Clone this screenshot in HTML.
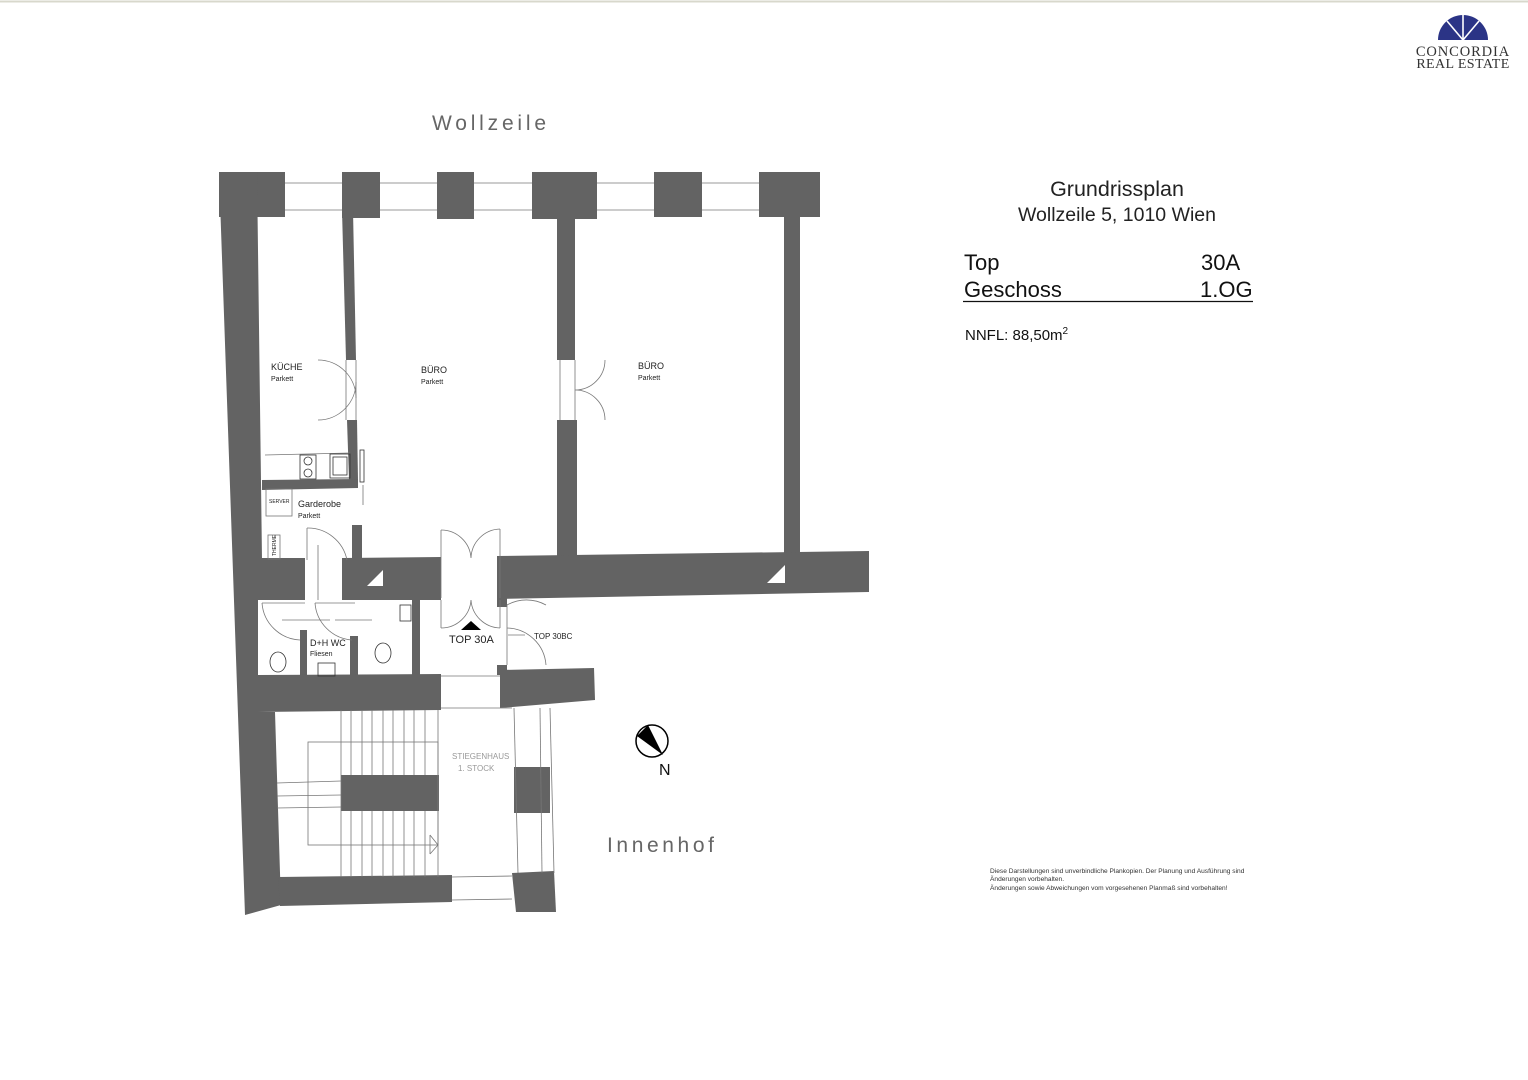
<!DOCTYPE html>
<html><head><meta charset="utf-8"><style>
html,body{margin:0;padding:0;background:#fff;}
svg{display:block;}
text{font-family:"Liberation Sans",sans-serif;}
</style></head><body>
<svg width="1528" height="1080" viewBox="0 0 1528 1080" xmlns="http://www.w3.org/2000/svg">
<line x1="0" y1="1.5" x2="1528" y2="1.5" stroke="#d8d8cc" stroke-width="2"/>
<!-- logo -->
<path d="M1438,40 A25,25 0 0 1 1488,40 Z" fill="#2b3486"/>
<g stroke="#fff" stroke-width="1.6"><line x1="1463" y1="40" x2="1447" y2="21"/><line x1="1463" y1="40" x2="1463" y2="15"/><line x1="1463" y1="40" x2="1479" y2="21"/></g>
<text x="1463" y="56" font-size="14.5" fill="#333" text-anchor="middle" style="font-family:'Liberation Serif',serif" letter-spacing="0.9">CONCORDIA</text>
<text x="1463" y="68" font-size="14" fill="#333" text-anchor="middle" style="font-family:'Liberation Serif',serif" letter-spacing="0.4">REAL ESTATE</text>

<text x="432" y="130" font-size="21" fill="#666" letter-spacing="3.8">Wollzeile</text>
<text x="607" y="852" font-size="21" fill="#666" letter-spacing="3.6">Innenhof</text>

<!-- title block -->
<text x="1117" y="196" font-size="21.5" fill="#222" text-anchor="middle">Grundrissplan</text>
<text x="1117" y="221" font-size="19.5" fill="#222" text-anchor="middle">Wollzeile 5, 1010 Wien</text>
<text x="964" y="270" font-size="22" fill="#111">Top</text>
<text x="1201" y="270" font-size="22" fill="#111">30A</text>
<text x="964" y="297" font-size="22" fill="#111">Geschoss</text>
<text x="1200" y="297" font-size="22" fill="#111">1.OG</text>
<line x1="963" y1="301.5" x2="1253" y2="301.5" stroke="#111" stroke-width="1.2"/>
<text x="965" y="340" font-size="15" fill="#111">NNFL: 88,50m<tspan font-size="10" dy="-6">2</tspan></text>
<g font-size="6.6" fill="#333">
<text x="990" y="873">Diese Darstellungen sind unverbindliche Plankopien. Der Planung und Ausführung sind</text>
<text x="990" y="881">Änderungen vorbehalten.</text>
<text x="990" y="890">Änderungen sowie Abweichungen vom vorgesehenen Planmaß sind vorbehalten!</text>
</g>

<!-- windows -->
<g stroke="#999" stroke-width="1" fill="none">
<line x1="285" y1="183" x2="759" y2="183"/><line x1="285" y1="210" x2="759" y2="210"/>
</g>
<g fill="#636363">
<rect x="219" y="172" width="66" height="45"/>
<rect x="342" y="172" width="38" height="46"/>
<rect x="437" y="172" width="37" height="47"/>
<rect x="532" y="172" width="65" height="47"/>
<rect x="654" y="172" width="48" height="45"/>
<rect x="759" y="172" width="61" height="45"/>
<polygon points="219,172 257,172 262,560 258,600 258,712 275,712 281,905 245,915"/>
<polygon points="342,210 353,210 356,360 346,360"/>
<polygon points="347,420 357,420 358,480 349,480"/>
<polygon points="262,480 358,479 358,488 262,490"/>
<rect x="557" y="210" width="18" height="150"/>
<rect x="557" y="420" width="20" height="136"/>
<rect x="784" y="210" width="16" height="343"/>
<polygon points="497,556 869,551 869,592 497,599"/>
<polygon points="342,558 441,557 441,600 342,600"/>
<rect x="352" y="525" width="10" height="35"/>
<rect x="258" y="558" width="47" height="42"/>
<rect x="300" y="630" width="7" height="48"/>
<rect x="350" y="636" width="8" height="42"/>
<rect x="412" y="600" width="8" height="76"/>
<polygon points="258,675 441,674 441,710 258,712"/>
<rect x="497" y="597" width="10" height="10"/>
<rect x="497" y="665" width="10" height="10"/>
<polygon points="500,670 594,668 595,700 500,708"/>
<polygon points="278,877 452,875 452,902 280,906"/>
<rect x="341" y="775" width="98" height="36"/>
<rect x="514" y="767" width="36" height="46"/>
<polygon points="512,873 554,871 556,912 516,912"/>
</g>
<polygon points="383,570 383,586 367,586" fill="#fff"/>
<polygon points="785,565 785,583 767,583" fill="#fff"/>

<g stroke="#777" stroke-width="0.8" fill="none">
<line x1="341" y1="710" x2="341" y2="877"/>
<line x1="351" y1="710" x2="351" y2="775"/><line x1="362" y1="710" x2="362" y2="775"/><line x1="372" y1="710" x2="372" y2="775"/><line x1="383" y1="710" x2="383" y2="775"/><line x1="393" y1="710" x2="393" y2="775"/><line x1="404" y1="710" x2="404" y2="775"/><line x1="414" y1="710" x2="414" y2="775"/><line x1="425" y1="710" x2="425" y2="775"/><line x1="438" y1="710" x2="438" y2="877"/>
<line x1="351" y1="811" x2="351" y2="877"/><line x1="362" y1="811" x2="362" y2="877"/><line x1="372" y1="811" x2="372" y2="877"/><line x1="383" y1="811" x2="383" y2="877"/><line x1="393" y1="811" x2="393" y2="877"/><line x1="404" y1="811" x2="404" y2="877"/><line x1="414" y1="811" x2="414" y2="877"/><line x1="425" y1="811" x2="425" y2="877"/>
<rect x="308" y="742" width="130" height="103"/>
<line x1="277" y1="783" x2="341" y2="781"/><line x1="277" y1="796" x2="341" y2="795"/><line x1="277" y1="808" x2="341" y2="807"/>
<polyline points="430,835 438,845 430,854"/><line x1="430" y1="835" x2="430" y2="854"/>
<line x1="514" y1="708" x2="518" y2="873"/><line x1="540" y1="708" x2="542" y2="873"/><line x1="550" y1="708" x2="554" y2="873"/>
<line x1="441" y1="708" x2="512" y2="708"/>
<line x1="452" y1="877" x2="512" y2="876"/><line x1="452" y1="900" x2="512" y2="899"/>
<line x1="441" y1="676" x2="500" y2="676"/>
<path d="M318,360 A38,38 0 0 1 356,398 M318,420 A38,38 0 0 0 356,382"/>
<line x1="346" y1="360" x2="346" y2="420"/><line x1="356" y1="360" x2="356" y2="420"/>
<path d="M605,360 A30,30 0 0 1 575,390 M605,420 A30,30 0 0 0 575,390"/>
<line x1="560" y1="360" x2="560" y2="420"/><line x1="575" y1="360" x2="575" y2="420"/>
<path d="M441,530 A30,30 0 0 1 471,558 M500,529 A30,30 0 0 0 471,558"/>
<line x1="441" y1="530" x2="441" y2="598"/><line x1="500" y1="529" x2="500" y2="598"/>
<path d="M441,628 A30,30 0 0 0 471,600 M500,628 A30,30 0 0 1 471,600"/>
<line x1="441" y1="600" x2="441" y2="628"/><line x1="500" y1="600" x2="500" y2="628"/>
<path d="M307,528 A40,40 0 0 1 347,560"/><line x1="307" y1="528" x2="307" y2="560"/><line x1="318" y1="545" x2="318" y2="600"/>
<path d="M262,603 A40,40 0 0 0 300,640"/><path d="M315,603 A40,40 0 0 0 352,640"/>
<line x1="262" y1="603" x2="305" y2="603"/><line x1="315" y1="603" x2="355" y2="603"/>
<line x1="282" y1="620" x2="330" y2="620"/><line x1="335" y1="620" x2="372" y2="620"/>
<path d="M507,605 A40,40 0 0 1 546,605 M546,665 A40,40 0 0 0 507,628"/>
<line x1="507" y1="605" x2="507" y2="665"/>
<line x1="508" y1="635" x2="525" y2="635"/>
<line x1="265" y1="455" x2="350" y2="453"/>
<rect x="300" y="455" width="16" height="24" stroke="#333"/>
<circle cx="308" cy="461" r="4" stroke="#333"/><circle cx="308" cy="473" r="4" stroke="#333"/>
<rect x="330" y="454" width="20" height="24" stroke="#333"/>
<rect x="333" y="457" width="14" height="18" stroke="#333"/>
<rect x="360" y="450" width="4" height="32" stroke="#333"/>
<line x1="363" y1="485" x2="363" y2="505"/>
<rect x="266" y="489" width="26" height="27"/>
<rect x="268" y="535" width="12" height="24"/>
<ellipse cx="278" cy="662" rx="8" ry="10" stroke="#333"/>
<ellipse cx="383" cy="653" rx="8" ry="10" stroke="#333"/>
<rect x="318" y="663" width="17" height="13" stroke="#333"/>
<rect x="400" y="605" width="11" height="16" stroke="#333"/>
</g>
<polygon points="461,630 471,621 481,630" fill="#000"/>
<circle cx="652" cy="741" r="16" fill="#fff" stroke="#000" stroke-width="1.5"/>
<polygon points="648,725 663,755 637,736" fill="#000"/>
<text x="659" y="775" font-size="16" fill="#111">N</text>

<g fill="#222">
<text x="271" y="370" font-size="9">KÜCHE</text><text x="271" y="381" font-size="7">Parkett</text>
<text x="421" y="373" font-size="9">BÜRO</text><text x="421" y="384" font-size="7">Parkett</text>
<text x="638" y="369" font-size="9">BÜRO</text><text x="638" y="380" font-size="7">Parkett</text>
<text x="298" y="507" font-size="9">Garderobe</text><text x="298" y="518" font-size="7">Parkett</text>
<text x="269" y="503" font-size="5">SERVER</text>
<text x="276" y="556" font-size="5" transform="rotate(-90 276 556)">THERME</text>
<text x="310" y="646" font-size="9">D+H WC</text><text x="310" y="656" font-size="7">Fliesen</text>
<text x="449" y="643" font-size="11">TOP 30A</text>
<text x="534" y="639" font-size="8">TOP 30BC</text>
</g>
<text x="452" y="759" font-size="8" fill="#999">STIEGENHAUS</text>
<text x="458" y="771" font-size="8" fill="#999">1. STOCK</text>
</svg>
</body></html>
